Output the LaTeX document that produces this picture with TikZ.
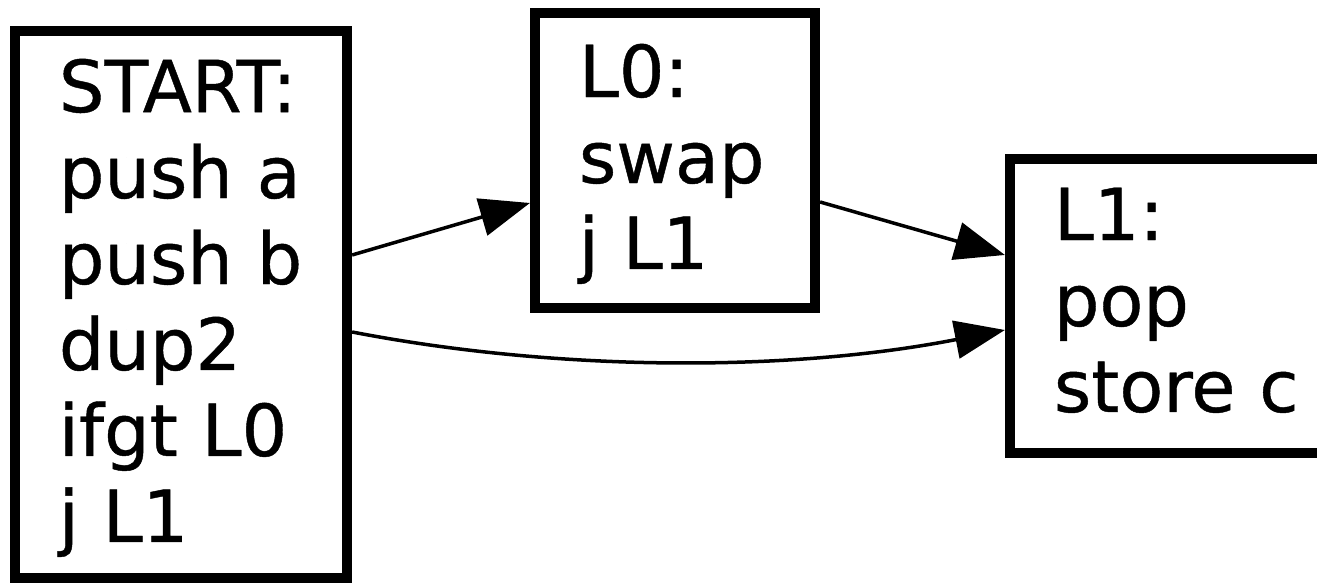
\documentclass[tikz,border=0pt]{standalone}
\usepackage{fontspec}
\setmainfont{DejaVu Sans}
\newfontfamily\boxfont{DejaVu Sans}[FakeBold=0.6]
\usetikzlibrary{arrows.meta,calc}
\begin{document}
\begin{tikzpicture}[x=0.01cm,y=-0.01cm,
  block/.style={draw,rectangle,line width=0.1cm,inner xsep=0.44cm,inner ysep=0pt,
    align=left,font=\boxfont\fontsize{20.4}{24.45}\selectfont},
  edge/.style={line width=0.035cm,-{Triangle[length=0.5cm,width=0.38cm]}}]
\useasboundingbox (0,0) rectangle (1317,583);

\node[block,minimum width=3.32cm,minimum height=5.47cm,text width=2.44cm] (S) at (181,304.5)
  {\rule{0pt}{0.6cm}START:\\push a\\push b\\dup2\\ifgt L0\\j L1\rule[-0.15cm]{0pt}{0pt}};
\node[block,minimum width=2.80cm,minimum height=2.95cm,text width=1.92cm] (L0) at (675,160.5)
  {\rule{0pt}{0.6cm}L0:\\swap\\j L1\rule[-0.15cm]{0pt}{0pt}};
\node[block,minimum width=3.40cm,minimum height=2.94cm,text width=2.52cm] (L1) at (1180,306)
  {\rule{0pt}{0.55cm}L1:\\pop\\store c\rule[-0.15cm]{0pt}{0pt}};

\draw[edge] ($(S.east)+(0,-49.5)$) -- ($(L0.west)+(0,42.5)$);
\draw[edge] ($(L0.east)+(0,41.5)$) -- ($(L1.west)+(0,-51)$);
\draw[edge] ($(S.east)+(0,27.5)$) .. controls +(207,40) and +(-214,42) .. ($(L1.west)+(0,24)$);
\end{tikzpicture}
\end{document}
